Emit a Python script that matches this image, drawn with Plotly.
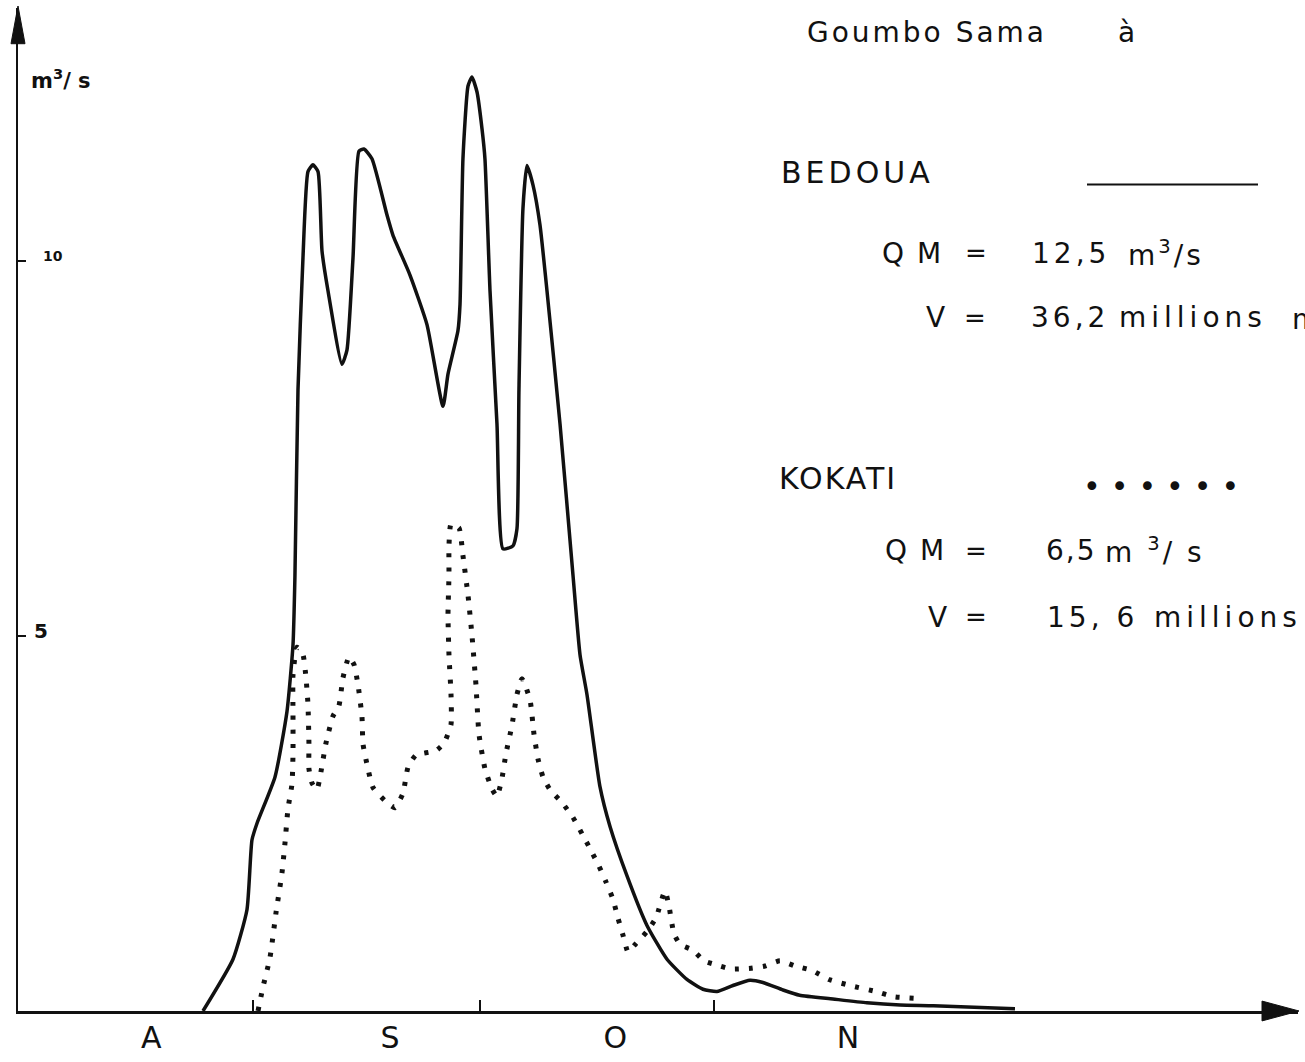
import plotly.graph_objects as go

# ---------------- data (days counted from 1 August, discharge in m3/s) ----------------
bedoua_day = [24.35, 28.32, 30.17, 30.83, 31.49, 33.88, 35.46, 36.26, 36.52, 36.92,
              37.58, 38.24, 38.90, 39.57, 40.10, 40.89, 42.74, 43.40, 44.20, 44.99,
              45.65, 46.71, 48.70, 49.49, 51.74, 53.99, 56.11, 56.77, 58.09, 58.36,
              58.75, 59.42, 59.94, 60.61, 61.27, 61.66, 62.33, 63.25, 64.05, 65.37,
              65.90, 66.16, 66.69, 67.22, 68.02, 68.94, 69.87, 71.59, 73.31, 74.24,
              75.16, 76.88, 78.21, 80.46, 83.10, 85.75, 88.39, 90.51, 92.36, 94.48,
              96.73, 98.45, 101.1, 103.3, 107.7, 112.2, 116.6, 121.0, 131.8]
bedoua_q = [0, 0.69, 1.35, 2.28, 2.50, 3.12, 3.99, 4.88, 5.81, 8.28,
            10.04, 11.19, 11.28, 11.19, 10.13, 9.60, 8.62, 8.81, 10.04, 11.46,
            11.49, 11.36, 10.61, 10.34, 9.81, 9.15, 8.06, 8.49, 9.07, 9.42,
            11.36, 12.33, 12.45, 12.25, 11.76, 11.36, 9.60, 7.83, 6.16, 6.20,
            6.43, 8.28, 10.70, 11.27, 11.01, 10.48, 9.60, 7.83, 5.81, 4.75,
            4.22, 2.99, 2.46, 1.80, 1.14, 0.69, 0.42, 0.29, 0.26, 0.34,
            0.41, 0.38, 0.28, 0.21, 0.16, 0.11, 0.08, 0.07, 0.03]

kokati_day = [31.63, 32.29, 33.21, 34.01, 34.80, 35.20, 35.60, 36.13, 36.26, 36.26,
              36.26, 36.79, 37.58, 37.98, 38.24, 38.37, 38.37, 38.77, 39.43, 39.96,
              40.62, 41.55, 42.34, 42.87, 43.67, 44.33, 44.86, 45.39, 45.52, 46.05,
              46.84, 48.56, 49.75, 50.81, 51.48, 52.53, 55.18, 56.24, 57.17, 57.17,
              56.90, 56.77, 56.90, 56.90, 57.17, 58.22, 58.75, 59.42, 59.94, 60.47,
              60.87, 61.66, 62.59, 63.25, 63.91, 64.44, 65.24, 65.90, 66.56, 67.62,
              68.15, 68.68, 69.34, 70.27, 71.85, 73.31, 74.63, 75.69, 76.75, 77.68,
              78.60, 79.26, 79.93, 80.59, 81.65, 83.10, 84.29, 85.48, 86.01, 86.67,
              87.47, 89.19, 90.64, 92.10, 94.22, 96.86, 98.72, 100.70, 102.69, 104.94,
              107.19, 110.36, 113.40, 115.79, 118.57]
kokati_q = [0, 0.32, 0.71, 1.31, 1.84, 2.24, 2.70, 3.03, 3.43, 3.96,
            4.48, 4.85, 4.75, 4.44, 4.09, 3.56, 3.23, 3.04, 2.95, 3.19,
            3.57, 3.93, 4.07, 4.44, 4.72, 4.62, 4.35, 3.92, 3.56, 3.29,
            2.98, 2.79, 2.71, 2.90, 3.25, 3.41, 3.47, 3.57, 3.82, 4.22,
            4.75, 5.28, 5.81, 6.20, 6.49, 6.44, 6.07, 5.54, 5.01, 4.35,
            3.69, 3.23, 2.96, 2.86, 3.10, 3.43, 3.81, 4.22, 4.43, 4.15,
            3.69, 3.36, 3.12, 2.95, 2.78, 2.58, 2.34, 2.14, 1.93, 1.72,
            1.49, 1.24, 1.01, 0.79, 0.90, 1.06, 1.24, 1.60, 1.40, 1.03,
            0.89, 0.81, 0.67, 0.62, 0.56, 0.57, 0.60, 0.67, 0.60, 0.54,
            0.42, 0.33, 0.26, 0.19, 0.17]

month_ticks = [31, 61, 92]                 # 1 Sep, 1 Oct, 1 Nov
month_label_pos = [17.5, 49.1, 78.9, 109.7]
month_labels = ["A", "S", "O", "N"]
y_ticks = [5, 10]
y_tick_labels = ["5", "10"]

# ---------------- layout geometry ----------------
W, H = 1305, 1062
ML, MR, MT, MB = 18, 7, 8, 43
X0, X1 = -0.13, 169.25
Y0, Y1 = 0, 13.37
FONT = "DejaVu Sans"
INK = "#111111"

PW = W - ML - MR
PH = H - MT - MB


def px(x):
    return (x - ML) / PW


def py(y):
    return (H - MB - y) / PH


fig = go.Figure()

fig.add_trace(go.Scatter(
    x=bedoua_day, y=bedoua_q, mode="lines", name="BEDOUA",
    line=dict(color=INK, width=3.5, shape="spline", smoothing=0.5),
    hoverinfo="skip", showlegend=False))

fig.add_trace(go.Scatter(
    x=kokati_day, y=kokati_q, mode="lines", name="KOKATI", xaxis="x2",
    line=dict(color=INK, width=5, dash="4px,10px", shape="spline", smoothing=0.5),
    hoverinfo="skip", showlegend=False))

annotations = []


def txt(text, x, y, size, ls=0, bold=False):
    t = text
    if ls:
        t = f'<span style="letter-spacing:{ls}px">{t}</span>'
    if bold:
        t = f"<b>{t}</b>"
    annotations.append(dict(
        text=t, x=px(x), y=py(y), xref="paper", yref="paper",
        xanchor="left", yanchor="middle", showarrow=False,
        font=dict(family=FONT, size=size, color=INK)))


# title
txt("Goumbo Sama", 805, 33, 28, ls=3)
txt("à", 1116, 33, 28)

# BEDOUA block
txt("BEDOUA", 779, 174, 30, ls=4)
txt("Q M", 880, 255, 28, ls=2)
txt("=", 963, 255, 26)
txt("12,5", 1030, 255, 28, ls=4)
txt("m<sup>3</sup>/s", 1126, 255, 28, ls=3)
txt("V", 924, 320, 28)
txt("=", 962, 320, 26)
txt("36,2", 1029, 320, 28, ls=4)
txt("millions", 1117, 320, 28, ls=5)
txt("m<sup>3</sup>", 1290, 320, 28)

# KOKATI block
txt("KOKATI", 777, 482, 30, ls=2)
txt("••••••", 1081, 490, 30, ls=10)
txt("Q M", 883, 555, 28, ls=2)
txt("=", 963, 555, 26)
txt("6,5", 1044, 555, 28, ls=2)
txt("m <sup>3</sup>/ s", 1103, 555, 28, ls=3)
txt("V", 926, 622, 28)
txt("=", 963, 622, 26)
txt("15, 6", 1045, 622, 28, ls=4)
txt("millions", 1152, 622, 28, ls=5)

# y-axis unit
txt("m<sup>3</sup>/ s", 29, 80, 21, bold=True)

# y tick labels (positioned on the y scale)
for v, lab, xpos, fs in zip(y_ticks, y_tick_labels, [32, 41], [20, 14]):
    annotations.append(dict(
        text=f"<b>{lab}</b>", x=px(xpos), y=v, xref="paper", yref="y",
        xanchor="left", yanchor="middle", yshift=5, showarrow=False,
        font=dict(family=FONT, size=fs, color=INK)))

shapes = [
    # y-axis arrowhead
    dict(type="path", xref="paper", yref="paper",
         path=f"M {px(11)} {py(44)} L {px(18)} {py(6)} L {px(25)} {py(44)} Z",
         fillcolor=INK, line=dict(color=INK, width=1)),
    # x-axis arrowhead
    dict(type="path", xref="paper", yref="paper",
         path=f"M {px(1262)} {py(1009)} L {px(1299)} {py(1019)} L {px(1262)} {py(1029)} Z",
         fillcolor=INK, line=dict(color=INK, width=1)),
    # BEDOUA legend line
    dict(type="line", xref="paper", yref="paper",
         x0=px(1087), x1=px(1258), y0=py(186), y1=py(186),
         line=dict(color=INK, width=2)),
]

fig.update_layout(
    width=W, height=H,
    margin=dict(l=ML, r=MR, t=MT, b=MB, pad=0),
    paper_bgcolor="white", plot_bgcolor="white",
    showlegend=False,
    font=dict(family=FONT, color=INK),
    xaxis=dict(range=[X0, X1], showgrid=False, zeroline=False,
               showline=True, linecolor=INK, linewidth=3,
               tickmode="array", tickvals=month_ticks,
               ticks="inside", ticklen=11, tickwidth=2, tickcolor=INK,
               showticklabels=False, fixedrange=True),
    xaxis2=dict(range=[X0, X1], overlaying="x", anchor="y", side="bottom",
                showgrid=False, zeroline=False, showline=False,
                tickmode="array", tickvals=month_label_pos, ticktext=month_labels,
                ticks="", ticklabelstandoff=6,
                tickfont=dict(family=FONT, size=30, color=INK), fixedrange=True),
    yaxis=dict(range=[Y0, Y1], showgrid=False, zeroline=False,
               showline=True, linecolor=INK, linewidth=2,
               tickmode="array", tickvals=y_ticks,
               ticks="inside", ticklen=8, tickwidth=2, tickcolor=INK,
               showticklabels=False, fixedrange=True),
    annotations=annotations,
    shapes=shapes,
)

fig.write_html("out.html")
